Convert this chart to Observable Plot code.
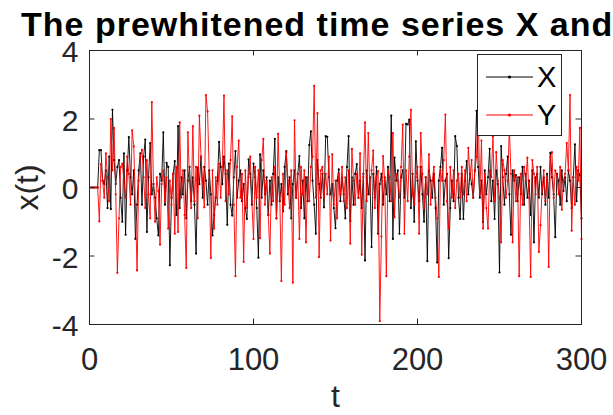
<!DOCTYPE html>
<html><head><meta charset="utf-8">
<script src="https://cdn.jsdelivr.net/npm/d3@7"></script>
<script src="https://cdn.jsdelivr.net/npm/@observablehq/plot@0.6"></script>
<style>
body{margin:0;background:#fff;}
#wrap{position:relative;width:613px;height:415px;overflow:hidden;background:#fff;font-family:"Liberation Sans",Arial,sans-serif;}
#title{position:absolute;z-index:3;left:21px;top:6px;font-weight:bold;font-size:34px;letter-spacing:1px;line-height:36px;white-space:nowrap;color:#000;}
#chart{position:absolute;z-index:1;left:0;top:36px;}
#legend{position:absolute;z-index:2;left:477px;top:54px;width:85px;height:82px;border:1px solid #262626;background:#fff;box-sizing:border-box;}
.entry{position:absolute;left:0;height:30px;width:84px;}
.entry svg{position:absolute;left:8px;top:9px;}
.entry span{position:absolute;left:59px;top:0;font-size:29px;line-height:30px;color:#000;}
</style></head>
<body>
<div id="wrap">
  <div id="title"></div>
  <div id="chart"></div>
  <div id="legend"></div>
</div>
<script>
const titleText = "The prewhitened time series X and Y";
const seriesNames = ["X", "Y"];
const seriesColors = ["#000000", "#ff0000"];
const xTicks = [0, 100, 200, 300];
const yTicks = [-4, -2, 0, 2, 4];
const xLabel = "t";
const yLabel = "x(t)";

const X = [
0,0,0,0,0,1.09,1.09,0.2,0.1,0.5,
-0.6,0.9,-0.63,2.27,0.8,0.1,0.6,0.8,-0.3,-1.0,
1.0,-1.38,0.5,1.47,0.3,-0.2,0.5,-1.5,-0.5,0.5,
1.0,-0.5,0.9,1.4,-1.3,0.3,1.3,-0.2,0.1,-0.3,
-0.9,-1.4,0.4,0.2,1.61,-0.5,0.72,0.6,-2.27,-0.3,
0.4,0.77,-0.8,1.79,-0.6,0.3,-0.2,0.5,-0.9,0.2,
0.6,-0.4,0.3,-0.5,-1.93,0.58,0.1,0.9,-0.3,0.6,
0.2,-0.5,0.5,-0.2,-1.4,-0.8,-0.3,0.2,1.33,0.6,
0.1,0.9,0.4,-1.09,0.7,-0.5,-0.82,0.3,1.06,-0.3,
0.2,0.5,-0.4,0.1,-0.6,-0.92,0.82,0.4,-0.5,0.7,
0.3,-0.6,-2.05,0.97,-0.3,0.5,-0.2,0.3,-0.8,0.2,
-0.5,0.4,1.42,-0.9,0.3,-0.4,0.1,-0.7,0.6,1.06,
-0.2,0.3,-0.9,0.1,0.5,-0.3,0.4,0.92,-0.6,0.2,
-0.9,0.3,-0.4,1.24,1.64,0.2,-0.5,-1.35,0.8,0.1,
-0.3,0.4,-0.58,1.5,1.48,0.3,-0.2,0.1,-0.6,-1.19,
0.2,0.53,-0.4,0.3,-0.2,-0.9,0.6,1.5,-0.98,0.3,
-0.5,0.4,0.68,-0.3,0.2,-0.6,0.4,-2.13,0.5,-0.2,
0.3,-1.74,0.4,-0.3,0.6,-1.35,0.1,0.4,-0.5,0.3,
-0.2,0.6,-0.4,2.1,-1.5,0.87,0.2,0.5,-1.35,0.3,
0.5,-0.3,1.86,1.84,1.98,-0.6,0.4,-1.0,1.35,0.2,
-0.4,0.6,-0.2,-1.0,0.3,-2.15,0.5,0.2,-0.3,0.4,
-0.6,-2.19,0.2,0.6,1.16,-0.5,0.2,0.4,-2.06,-0.6,
0.2,-0.4,1.5,1.21,-0.3,-0.92,0.4,-0.92,0.2,0.77,
-0.2,0.4,0.1,-0.3,0.5,2.24,0.6,-0.3,0.2,-1.01,
0.5,-0.2,0.3,1.13,-0.4,0.2,-0.92,0.5,0.1,-2.48,
1.21,0.3,-0.5,0.4,0.9,-0.2,-1.38,0.5,0.2,0.36,
-0.4,0.3,-0.2,0.6,-0.5,0.4,-0.3,0.2,-0.8,0.5,
-1.6,0.29,0.4,-0.3,0.6,-0.2,0.3,-0.5,0.4,-0.3,
1.01,0.3,-0.2,-1.45,0.4,0.2,-0.5,0.5,-0.1,0.3,
-0.4,0.5,0.2,-0.6,0.3,1.26,-0.4,0.5,0.36,-0.9
];

const Y = [
0,0,0,0,0,-0.99,0.68,0.2,-0.3,1.0,
0.3,-0.4,2.0,0.5,1.74,-0.2,-2.49,-0.9,0.6,0.7,
0.2,-0.3,0.9,0.4,-0.5,1.67,1.2,-0.5,-2.42,0.2,
0.9,1.1,0.3,-0.6,0.8,-0.2,-0.9,2.49,0.1,-1.0,
0.3,-0.1,-1.67,0.1,0.5,-0.4,0.3,-1.2,0.2,-0.5,
0.4,-1.35,0.6,-1.3,1.9,-0.3,0.5,-0.8,-2.35,1.61,
0.2,-0.6,1.79,-0.4,0.6,-0.9,2.1,0.9,0.2,-0.58,
2.7,2.22,0.4,-2.06,0.5,-1.2,0.3,-0.5,0.7,-0.3,
0.6,2.68,-0.4,0.5,-0.2,0.8,2.08,-0.5,-2.59,0.6,
1.37,-0.3,0.4,-2.17,0.5,-0.6,0.3,0.9,-0.4,-1.5,
0.6,-0.3,0.5,-1.48,0.8,1.42,-0.5,0.2,-0.8,-1.93,
0.3,-0.4,0.6,-0.9,1.57,-0.2,-2.73,0.4,-0.5,1.03,
0.2,-0.6,0.5,-2.78,1.96,-0.3,0.4,-1.5,0.6,-0.2,
0.5,-1.6,0.3,-0.4,0.6,0.9,2.97,-0.3,2.17,-2.03,
0.5,0.6,-0.3,0.4,-0.2,0.9,-1.55,0.97,-0.5,0.2,
-0.9,0.4,-0.2,0.6,-0.4,0.3,-0.6,0.5,-1.64,1.13,
0.2,-0.5,0.4,-0.3,1.0,-1.96,0.3,1.9,-0.4,1.59,
-0.2,0.5,1.08,-0.6,0.3,0.48,-3.9,-1.43,0.92,0.2,
-2.59,0.5,0.3,-0.4,1.59,-0.87,0.4,0.2,-0.3,0.6,
1.84,-1.35,0.5,-0.4,0.9,2.27,-0.2,-0.5,0.3,0.6,
-1.35,1.59,0.4,-0.6,0.3,-0.2,0.97,-0.5,0.2,0.6,
-0.3,-0.9,-2.61,0.5,0.2,0.8,2.13,-0.4,-1.2,0.6,
-0.3,0.5,-0.6,0.2,0.4,-0.3,0.6,-0.2,0.5,-0.4,
1.16,0.3,0.8,-0.3,0.5,0.9,2.32,-0.2,1.37,-1.2,
0.4,-0.6,-1.2,0.5,0.3,1.5,-0.4,1.03,0.2,-0.3,
-1.6,0.8,0.5,-0.3,0.2,1.74,0.4,-1.6,0.5,-0.4,
0.3,-2.59,0.4,-0.5,0.6,0.2,0.87,-0.3,-2.61,0.8,
0.4,-0.2,0.6,-1.88,-1.1,-0.05,0.5,-0.4,0.3,-2.32,
0.9,1.03,-0.3,0.5,0.35,-0.2,0.6,-0.65,0.2,0.4,
1.3,0.5,2.7,-1.26,0.3,-0.5,0.6,0.2,1.74,-1.5
];

document.getElementById("title").textContent = titleText;

const series = [X, Y];
const data = series.flatMap((vals, si) => vals.map((v, i) => ({t: i + 1, v, s: seriesNames[si]})));

const W = 613, H = 379;
const mL = 89, mR = 32, mT = 14, mB = 91;
const plotW = W - mL - mR, plotH = H - mT - mB;
const tk = 5.5;
const axisColor = "#262626";
const fontFam = "'Liberation Sans', Arial, sans-serif";
const fmt = d => String(d);

const marks = [];
seriesNames.forEach((name, si) => {
  const d = data.filter(r => r.s === name);
  marks.push(Plot.line(d, {x: "t", y: "v", stroke: seriesColors[si], strokeWidth: 0.9}));
  marks.push(Plot.dot(d, {x: "t", y: "v", r: 1.1, fill: seriesColors[si], stroke: "none"}));
});
marks.push(
  Plot.frame({stroke: axisColor, strokeWidth: 1}),
  Plot.ruleX(xTicks.slice(1, -1), {x: d => d, stroke: axisColor, insetTop: plotH - tk}),
  Plot.ruleX(xTicks.slice(1, -1), {x: d => d, stroke: axisColor, insetBottom: plotH - tk}),
  Plot.ruleY(yTicks.slice(1, -1), {y: d => d, stroke: axisColor, insetRight: plotW - tk}),
  Plot.ruleY(yTicks.slice(1, -1), {y: d => d, stroke: axisColor, insetLeft: plotW - tk}),
  Plot.axisX(xTicks, {tickSize: 0, tickPadding: 23, fontSize: 31, label: null, fill: axisColor, tickFormat: fmt}),
  Plot.axisY(yTicks, {tickSize: 0, tickPadding: 11, dy: 2, fontSize: 30, label: null, fill: axisColor, tickFormat: fmt}),
  Plot.text([yLabel], {frameAnchor: "left", textAnchor: "middle", lineAnchor: "middle", dx: -62, rotate: -90, fontSize: 32, fill: axisColor}),
  Plot.text([xLabel], {frameAnchor: "bottom", textAnchor: "middle", lineAnchor: "bottom", dy: 82, fontSize: 32, fill: axisColor})
);

const chart = Plot.plot({
  width: W, height: H,
  marginLeft: mL, marginRight: mR, marginTop: mT, marginBottom: mB,
  x: {domain: [xTicks[0], xTicks[xTicks.length - 1]]},
  y: {domain: [yTicks[0], yTicks[yTicks.length - 1]]},
  style: {fontFamily: fontFam, background: "transparent", color: axisColor, overflow: "visible"},
  marks
});
document.getElementById("chart").appendChild(chart);

const legend = document.getElementById("legend");
seriesNames.forEach((name, si) => {
  const e = document.createElement("div");
  e.className = "entry";
  e.style.top = (7 + si * 38) + "px";
  e.innerHTML = `<svg width="48" height="12"><line x1="0" y1="6" x2="47" y2="6" stroke="${seriesColors[si]}" stroke-width="1"/><circle cx="23.5" cy="6" r="1.6" fill="${seriesColors[si]}"/></svg><span>${name}</span>`;
  legend.appendChild(e);
});
</script>
</body></html>
